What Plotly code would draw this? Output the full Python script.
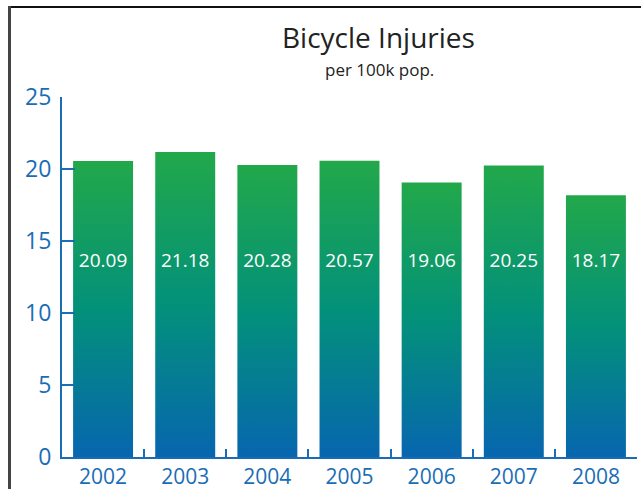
import plotly.graph_objects as go

years = ["2002", "2003", "2004", "2005", "2006", "2007", "2008"]
injuries = [20.09, 21.18, 20.28, 20.57, 19.06, 20.25, 18.17]
# bar heights as drawn in the reference (the 2002 bar is drawn taller than its label)
bar_heights = [20.56, 21.18, 20.28, 20.57, 19.06, 20.25, 18.17]
y_ticks = [0, 5, 10, 15, 20, 25]

BLUE = "#1a6db5"
BAR_W = 0.73
LABEL_Y = 13.5
FONT = "Open Sans"

fig = go.Figure()
for i, h in enumerate(bar_heights):
    x0, x1 = i - BAR_W / 2, i + BAR_W / 2
    fig.add_trace(go.Scatter(
        x=[x0, x1, x1, x0, x0], y=[0, 0, h, h, 0],
        fill="toself", mode="lines", line=dict(width=0),
        fillgradient=dict(type="vertical",
                          colorscale=[[0, "#0766af"], [0.5, "#03917a"], [1, "#22a84a"]]),
        hoverinfo="skip", showlegend=False))

fig.add_trace(go.Scatter(
    x=list(range(len(years))), y=[LABEL_Y] * len(years), mode="text",
    text=[f"{v:.2f}" for v in injuries],
    textfont=dict(color="white", size=19, family=FONT),
    showlegend=False, hoverinfo="skip"))

fig.update_layout(
    width=641, height=489,
    margin=dict(l=62, r=4, t=97, b=32, autoexpand=False),
    paper_bgcolor="white", plot_bgcolor="white",
    font=dict(family=FONT),
    xaxis=dict(range=[-0.5, len(years) - 0.5], tickmode="array",
               tickvals=list(range(len(years))), ticktext=years, ticks="",
               tickfont=dict(size=21, color=BLUE), automargin=False,
               minor=dict(tickmode="array", tickvals=[i + 0.5 for i in range(len(years) - 1)],
                          ticks="inside", ticklen=8, tickwidth=2, tickcolor=BLUE, showgrid=False),
               showline=True, linecolor=BLUE, linewidth=2,
               showgrid=False, zeroline=False, fixedrange=True),
    yaxis=dict(range=[0, 25], tickmode="array", tickvals=y_ticks,
               ticks="inside", ticklen=13, tickwidth=2, tickcolor=BLUE,
               tickfont=dict(size=23, color=BLUE), automargin=False,
               ticklabelstandoff=4,
               showline=True, linecolor=BLUE, linewidth=2,
               showgrid=False, zeroline=False, fixedrange=True),
    annotations=[
        dict(text="Bicycle Injuries", xref="paper", yref="paper",
             x=(378 - 62) / 575, y=(457 - 37) / 360, xanchor="center", yanchor="middle",
             showarrow=False, font=dict(size=28, color="#222222", family=FONT)),
        dict(text="per 100k pop.", xref="paper", yref="paper",
             x=(379 - 62) / 575, y=(457 - 69) / 360, xanchor="center", yanchor="middle",
             showarrow=False, font=dict(size=17, color="#222222", family=FONT)),
    ],
    shapes=[
        dict(type="line", xref="paper", yref="paper",
             x0=(9.5 - 62) / 575, x1=1.02, y0=(457 - 7) / 360, y1=(457 - 7) / 360,
             line=dict(color="#111111", width=2)),
        dict(type="line", xref="paper", yref="paper",
             x0=(9.5 - 62) / 575, x1=(9.5 - 62) / 575, y0=(457 - 6) / 360, y1=-0.12,
             line=dict(color="#444444", width=3)),
    ],
)

fig.write_html("out.html", config={"displayModeBar": False},
               post_script="document.body.style.margin='0';document.body.style.overflow='hidden';")
